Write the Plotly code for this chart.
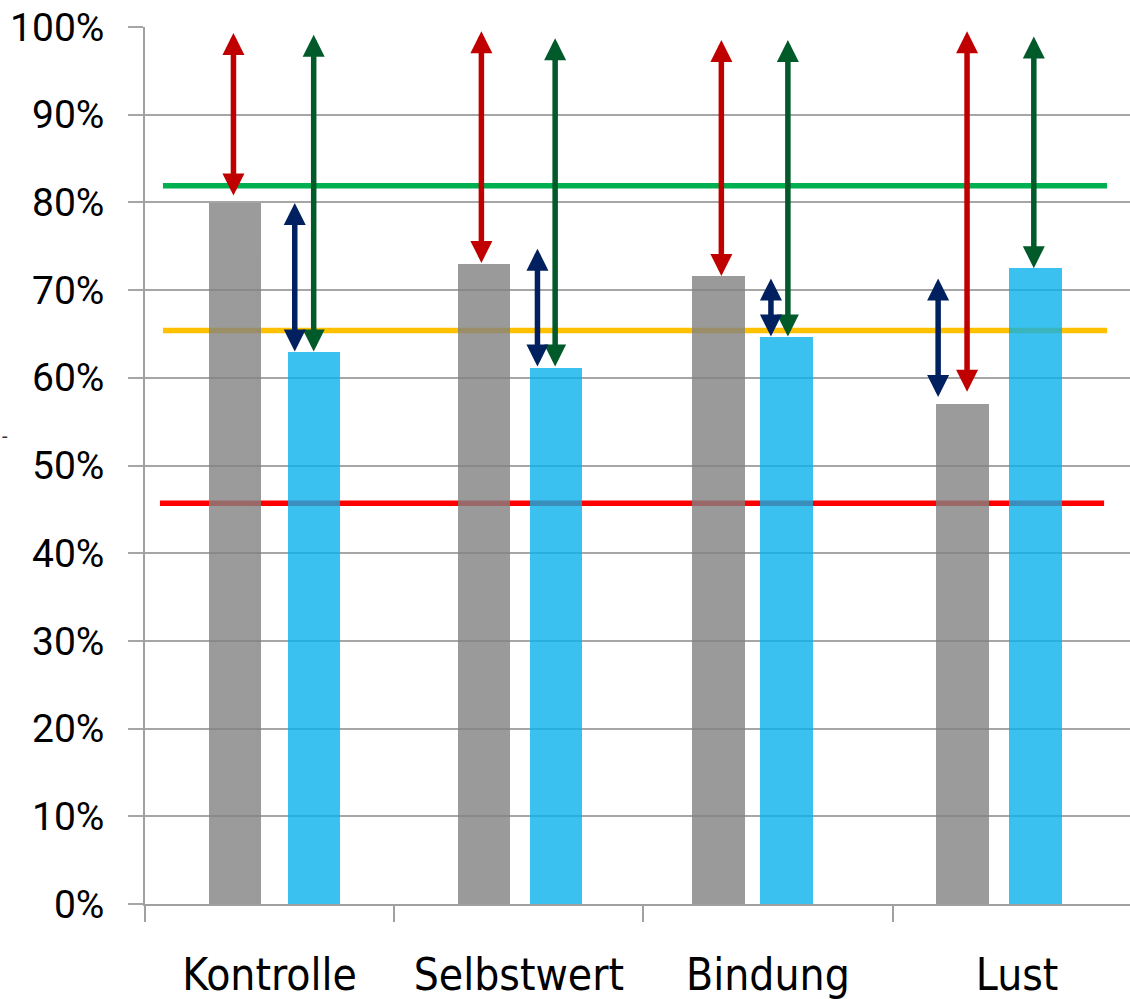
import plotly.graph_objects as go

# Categories and values (percent)
categories = ["Kontrolle", "Selbstwert", "Bindung", "Lust"]
gray_values = [79.9, 73.0, 71.6, 57.0]
blue_values = [62.9, 61.1, 64.6, 72.5]

# Reference levels (percent)
level_green = 81.9
level_yellow = 65.4
level_red = 45.7

# Double-arrow spans (top, bottom) in percent
red_top = [99.5, 99.7, 98.7, 99.7]
red_bottom = [80.8, 73.1, 71.6, 58.4]
green_top = [99.3, 98.9, 98.7, 99.1]
green_bottom = [63.0, 61.3, 64.7, 72.5]
navy_top = [80.1, 74.9, 71.5, 71.5]
navy_bottom = [63.0, 61.3, 64.7, 57.8]

y_ticks = list(range(0, 101, 10))
y_tick_text = [f"{v}%" for v in y_ticks]

# Layout: horizontal placement within each category slot (slot width = 1)
gray_offset = [0.361, 0.360, 0.302, 0.281]
blue_offset = [0.679, 0.649, 0.574, 0.574]
red_arrow_offset = [0.355, 0.350, 0.313, 0.299]
navy_arrow_offset = [0.601, 0.575, 0.512, 0.183]
green_arrow_offset = [0.677, 0.646, 0.580, 0.567]
BAR_WIDTH = 0.21

n = len(categories)
gray_x = [i + o for i, o in enumerate(gray_offset)]
blue_x = [i + o for i, o in enumerate(blue_offset)]

fig = go.Figure()
fig.add_trace(go.Bar(x=gray_x, y=gray_values, width=BAR_WIDTH,
                     marker=dict(color="rgb(130,130,130)", line=dict(width=0)),
                     opacity=0.8, showlegend=False, hoverinfo="y"))
fig.add_trace(go.Bar(x=blue_x, y=blue_values, width=BAR_WIDTH,
                     marker=dict(color="rgb(10,178,236)", line=dict(width=0)),
                     opacity=0.8, showlegend=False, hoverinfo="y"))

# Horizontal reference lines beneath the bars
for level, color, x0, x1 in [(level_green, "#00b050", 0.072, 3.861),
                             (level_yellow, "#ffc000", 0.072, 3.861),
                             (level_red, "#ff0000", 0.060, 3.849)]:
    fig.add_shape(type="line", xref="x", yref="y", x0=x0, x1=x1, y0=level, y1=level,
                  line=dict(color=color, width=5.5), layer="below")

# Double-headed arrows
def add_arrow(x, top, bottom, color):
    fig.add_annotation(x=x, y=bottom, ax=x, ay=top, xref="x", yref="y",
                       axref="x", ayref="y", text="", showarrow=True,
                       arrowside="end+start", arrowhead=2, startarrowhead=2,
                       arrowsize=0.8, startarrowsize=0.8,
                       arrowwidth=5.5, arrowcolor=color, standoff=0, startstandoff=0)

for i in range(n):
    add_arrow(i + red_arrow_offset[i], red_top[i], red_bottom[i], "#c00000")
    add_arrow(i + green_arrow_offset[i], green_top[i], green_bottom[i], "#005a2a")
    add_arrow(i + navy_arrow_offset[i], navy_top[i], navy_bottom[i], "#002060")

# Stray dash at the far left
fig.add_annotation(x=0.0, y=0.534, xref="paper", yref="paper", xanchor="left",
                   text="-", showarrow=False, xshift=-145,
                   font=dict(family="Roboto", size=20, color="#333"))

fig.update_layout(
    width=1130, height=999,
    margin=dict(l=145, r=0, t=27, b=95),
    paper_bgcolor="white", plot_bgcolor="white",
    bargap=0,
    xaxis=dict(range=[0, 3.953], tickvals=[i + 0.5 for i in range(n)],
               ticktext=categories, ticks="", showgrid=False, zeroline=False,
               showline=True, linecolor="#a0a0a0", linewidth=1.5,
               tickfont=dict(family="DejaVu Sans Condensed", size=44, color="#000"),
               ticklabelstandoff=31,
               minor=dict(tickvals=list(range(n)), ticks="outside", ticklen=16,
                          tickcolor="#a0a0a0", tickwidth=1.5, showgrid=False)),
    yaxis=dict(range=[0, 100], tickvals=y_ticks, ticktext=y_tick_text,
               ticks="outside", ticklen=15, tickcolor="#a6a6a6", tickwidth=1.5,
               showgrid=True, gridcolor="#a6a6a6", gridwidth=1.5, zeroline=False,
               showline=True, linecolor="#a0a0a0", linewidth=1.5,
               tickfont=dict(family="Roboto", size=39, color="#000"),
               ticklabelstandoff=16),
)

fig.write_html("out.html")
